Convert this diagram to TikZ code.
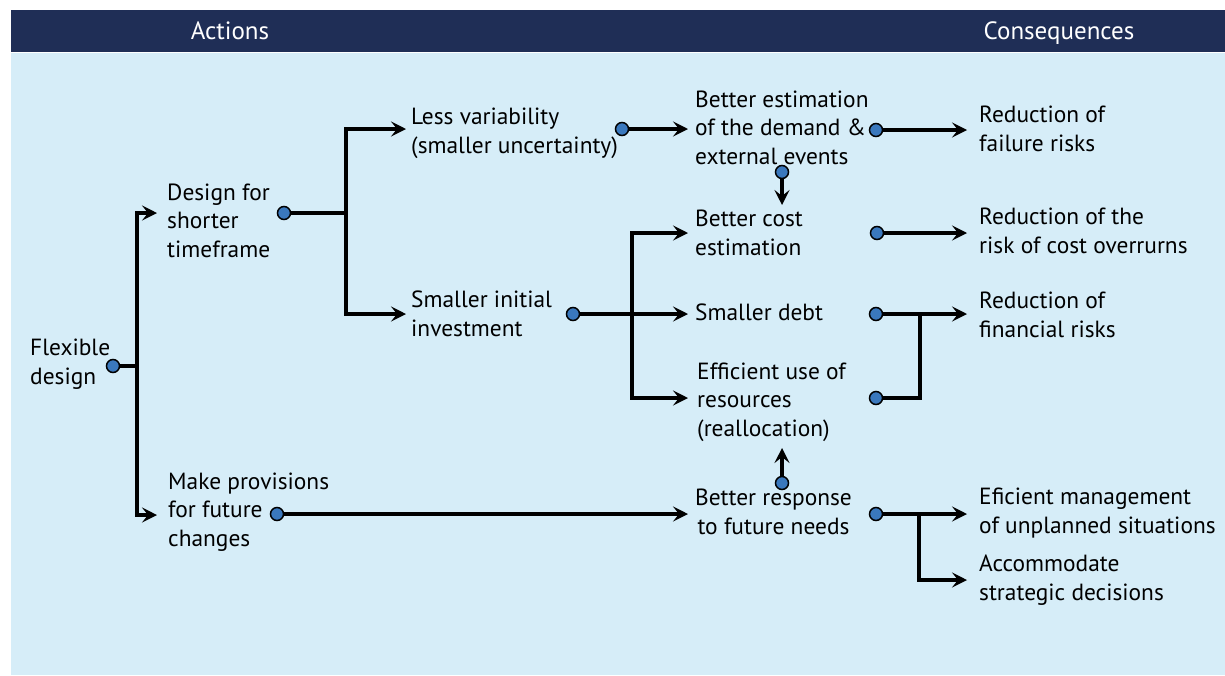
\documentclass[tikz,border=0pt]{standalone}
\usepackage{fontspec}
\setmainfont{PT Sans}
\usetikzlibrary{arrows.meta,calc}
\definecolor{navy}{RGB}{31,46,86}
\definecolor{panel}{RGB}{214,237,248}
\definecolor{dotblue}{RGB}{58,120,189}
\begin{document}
\begin{tikzpicture}[x=1pt,y=-1pt,
  lbl/.style={font=\fontsize{23.4}{28.5}\selectfont, align=left, inner sep=0pt, anchor=base west},
  hdr/.style={font=\fontsize{25}{30}\selectfont, text=white, inner sep=0pt, anchor=base},
  dotnode/.style={circle, draw=black, line width=1.5pt, fill=dotblue, minimum size=13pt, inner sep=0pt},
  conn/.style={line width=3.2pt, draw=black},
  arr/.style={conn, -{Stealth[length=15pt,width=15pt,inset=6pt]}}]
\useasboundingbox (0,0) rectangle (1225,675);
% background
\fill[white] (0,0) rectangle (1225,675);
\fill[navy] (11,10) rectangle (1225,52);
\fill[panel] (11,53) rectangle (1225,675);
\node[hdr] (hA) at (230,39) {Actions};
\node[hdr] (hC) at (1059,39) {Consequences};
% texts (anchored at the baseline of their last line)
\node[lbl] (t1) at (30,384) {Flexible\\design};
\node[lbl] (t2) at (167,257) {Design for\\shorter\\timeframe};
\node[lbl] (t3) at (411,153) {Less variability\\(smaller uncertainty)};
\node[lbl] (t4) at (695,164) {Better estimation\\of the demand \&\\external events};
\node[lbl] (t5) at (695,255) {Better cost\\estimation};
\node[lbl] (t6) at (411,336) {Smaller initial\\investment};
\node[lbl] (t7) at (695,320) {Smaller debt};
\node[lbl] (t8) at (697,436) {Efficient use of\\resources\\(reallocation)};
\node[lbl, align=center, anchor=base] (t9) at (773.5,534) {Better response\\to future needs};
\node[lbl] (t10) at (168,546) {Make provisions\\for future\\changes};
\node[lbl] (t11) at (979,151) {Reduction of\\failure risks};
\node[lbl] (t12) at (979,253) {Reduction of the\\risk of cost overrurns};
\node[lbl] (t13) at (979,337) {Reduction of\\financial risks};
\node[lbl] (t14) at (979,533) {Eficient management\\of unplanned situations};
\node[lbl] (t15) at (979,600) {Accommodate\\strategic decisions};
% junctions and arrow ends
\coordinate (j1) at (137,366);
\coordinate (a2) at (157,213);
\coordinate (a10) at (157,515);
\coordinate (j2) at (346,213);
\coordinate (a3) at (406,129);
\coordinate (a6) at (406,314);
\coordinate (a4) at (688,129);
\coordinate (j6) at (632,314);
\coordinate (a7) at (688,314);
\coordinate (a5) at (688,233);
\coordinate (a8) at (688,398);
\coordinate (a11) at (967,130);
\coordinate (a5t) at (782,205);
\coordinate (a12) at (967,233);
\coordinate (a13) at (967,314);
\coordinate (j13) at (920,314);
\coordinate (a8b) at (782,448);
\coordinate (a9) at (688,514);
\coordinate (a14) at (967,514);
\coordinate (j9) at (919,514);
\coordinate (a15) at (967,580);
% dots
\node[dotnode] (d1) at (113,366) {};
\node[dotnode] (d2) at (284,213) {};
\node[dotnode] (d3) at (622,129) {};
\node[dotnode] (d4r) at (876,130) {};
\node[dotnode] (d4b) at (782,172) {};
\node[dotnode] (d5) at (877,233) {};
\node[dotnode] (d6) at (573,314) {};
\node[dotnode] (d7) at (876,314) {};
\node[dotnode] (d8) at (876,398) {};
\node[dotnode] (d9t) at (782,483) {};
\node[dotnode] (d9r) at (876,514) {};
\node[dotnode] (d10) at (277,514) {};
% connectors
\draw[conn] (d1) -- (j1);
\draw[arr] (j1) |- (a2);
\draw[arr] (j1) |- (a10);
\draw[conn] (d2) -- (j2);
\draw[arr] (j2) |- (a3);
\draw[arr] (j2) |- (a6);
\draw[arr] (d3) -- (a4);
\draw[arr] (d6) -- (a7);
\draw[arr] (j6) |- (a5);
\draw[arr] (j6) |- (a8);
\draw[arr] (d4r) -- (a11);
\draw[arr] (d4b) -- (a5t);
\draw[arr] (d5) -- (a12);
\draw[arr] (d7) -- (a13);
\draw[conn] (d8) -| (j13);
\draw[arr] (d9t) -- (a8b);
\draw[arr] (d10) -- (a9);
\draw[arr] (d9r) -- (a14);
\draw[arr] (j9) |- (a15);
\end{tikzpicture}
\end{document}
